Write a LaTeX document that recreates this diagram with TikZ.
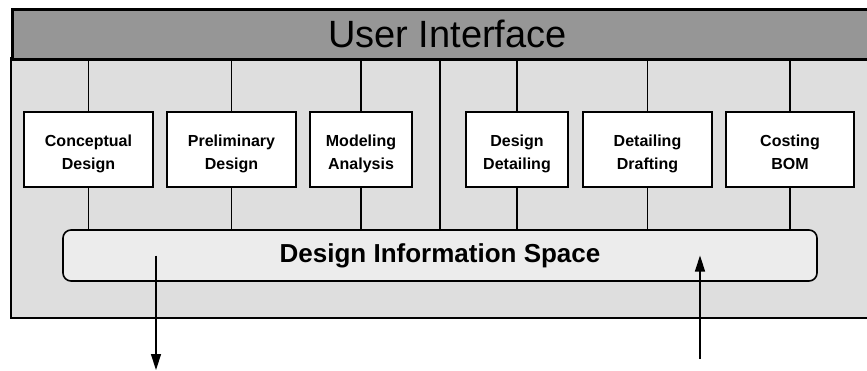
\documentclass[tikz,border=0pt]{standalone}
\usepackage{fontspec}
\setmainfont{Liberation Sans}
\usetikzlibrary{arrows.meta,positioning}

\definecolor{headgray}{HTML}{969696}
\definecolor{bodygray}{HTML}{DEDEDE}
\definecolor{spacegray}{HTML}{ECECEC}

\tikzset{
    module/.style={draw,
        line width=2pt,
        fill=white,
        minimum height=75pt,
        inner sep=0pt,
        align=center,
        text height=39pt,
        text depth=0pt,
        font=\fontsize{16}{23}\selectfont\bfseries
    },
    link/.style={line width=1.4pt},
    flow/.style={line width=1.4pt, -{Triangle[length=16pt,width=10pt]}}
}

\begin{document}
\begin{tikzpicture}[x=1pt,y=-1pt]

    \useasboundingbox (0,0) rectangle (867,370);
    \clip (0,0) rectangle (867,370);

    % frame and header bar
    \draw[line width=2.8pt, fill=bodygray] (11,58) rectangle (885,318);
    \node[draw,
        line width=2.8pt,
        fill=headgray,
        minimum width=870pt,
        minimum height=50pt,
        inner sep=0pt,
        anchor=north west,
        font=\fontsize{38}{40}\selectfont
    ] (ui) at (11,8) {User Interface};

    % application modules
    \node[module, minimum width=129pt] (cd)  at (88.5,149.5)  {Conceptual\\Design};
    \node[module, minimum width=129pt] (pd)  at (231.5,149.5) {Preliminary\\Design};
    \node[module, minimum width=102pt] (ma)  at (361,149.5)   {Modeling\\Analysis};
    \node[module, minimum width=102pt] (dd)  at (517,149.5)   {Design\\Detailing};
    \node[module, minimum width=129pt] (ddr) at (647.5,149.5) {Detailing\\Drafting};
    \node[module, minimum width=128pt] (cb)  at (790,149.5)   {Costing\\BOM};

    % shared data space
    \node[draw,
        line width=1.6pt,
        rounded corners=8pt,
        fill=spacegray,
        minimum width=754pt,
        minimum height=51pt,
        font=\fontsize{26}{28}\selectfont\bfseries
    ] (dis) at (440,255.5) {Design Information Space};

    \foreach \m in {cd,pd,ma,dd,ddr,cb}{
        \draw[link] (\m.north) -- (\m.north |- ui.south);
        \draw[link] (\m.south) -- (\m.south |- dis.north);
    }
    \draw[link] (dis.north) -- (dis.north |- ui.south);

    % data in and out
    \coordinate (export) at (156,370);
    \coordinate (import) at (700,359);
    \draw[flow] (export |- dis.center) -- (export);
    \draw[flow] (import) -- (import |- dis.center);

\end{tikzpicture}
\end{document}
